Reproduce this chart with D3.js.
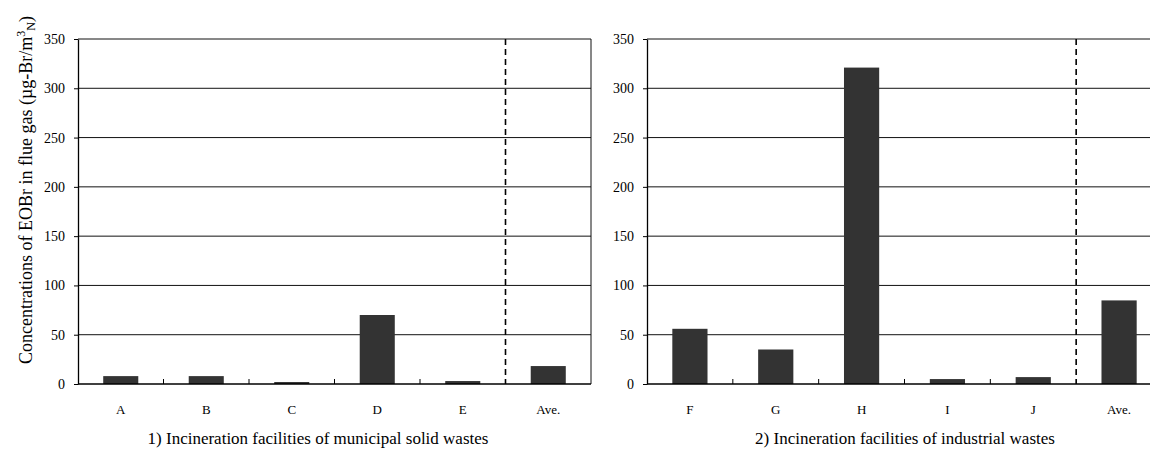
<!DOCTYPE html>
<html>
<head>
<meta charset="utf-8">
<script src="https://cdn.jsdelivr.net/npm/d3@7"></script>
<style>
  body { margin: 0; background: #fff; }
  svg text { font-family: "Liberation Serif", "DejaVu Serif", serif !important; fill: #000; }
</style>
</head>
<body>
<svg id="drawing_region"></svg>
<script>
// municipal solid waste facilities
const leftCats = ['A', 'B', 'C', 'D', 'E', 'Ave.'];
const leftVals = [8, 8, 2, 70, 3, 18.2];
// industrial waste facilities
const rightCats = ['F', 'G', 'H', 'I', 'J', 'Ave.'];
const rightVals = [56, 35, 321, 5, 7, 84.8];
const yTicks = [0, 50, 100, 150, 200, 250, 300, 350];
const titles = ['1) Incineration facilities of municipal solid wastes',
                '2) Incineration facilities of industrial wastes'];

const svg = d3.select('#drawing_region')
    .attr('width', 1150)
    .attr('height', 451);

const plotTop = 39, plotBottom = 384;

const yscale = d3.scaleLinear()
    .domain([0, 350])
    .range([plotBottom, plotTop]);

function drawPanel(cats, vals, x0, x1, title, titleX) {
    let g = svg.append('g');

    let xscale = d3.scaleBand()
        .domain(cats)
        .range([x0, x1])
        .padding(0);

    // horizontal grid lines
    g.selectAll('.grid')
        .data(yTicks.slice(1))
        .join('line')
        .attr('x1', x0).attr('x2', x1)
        .attr('y1', d => yscale(d)).attr('y2', d => yscale(d))
        .attr('stroke', '#111')
        .attr('stroke-width', 1);

    // right border
    g.append('line')
        .attr('x1', x1).attr('x2', x1)
        .attr('y1', plotTop).attr('y2', plotBottom)
        .attr('stroke', '#111');

    // bars
    let bw = xscale.bandwidth() * 0.41;
    g.selectAll('.bar')
        .data(vals)
        .join('rect')
        .attr('x', (d, i) => xscale(cats[i]) + (xscale.bandwidth() - bw) / 2)
        .attr('y', d => yscale(d))
        .attr('width', bw)
        .attr('height', d => yscale(0) - yscale(d))
        .attr('fill', '#333');

    // dashed separator before the average
    let xs = xscale(cats[cats.length - 1]);
    g.append('line')
        .attr('x1', xs).attr('x2', xs)
        .attr('y1', plotTop).attr('y2', plotBottom)
        .attr('stroke', '#000')
        .attr('stroke-width', 1.6)
        .attr('stroke-dasharray', '6,4');

    // y axis
    let yaxis = d3.axisLeft(yscale)
        .tickValues(yTicks)
        .tickSize(4)
        .tickPadding(9)
        .tickSizeOuter(0);
    let ya = g.append('g')
        .attr('transform', `translate(${x0}, 0)`)
        .call(yaxis);
    ya.select('.domain').attr('stroke', '#000').attr('stroke-width', 1.3);
    ya.selectAll('.tick line').attr('stroke', '#000');
    ya.selectAll('.tick text')
        .attr('font-size', 14);

    // category boundary ticks pointing up
    g.selectAll('.ctick')
        .data(cats.slice(1, -1))
        .join('line')
        .attr('x1', d => xscale(d)).attr('x2', d => xscale(d))
        .attr('y1', plotBottom).attr('y2', plotBottom - 5)
        .attr('stroke', '#000');

    // x axis line
    g.append('line')
        .attr('x1', x0).attr('x2', x1)
        .attr('y1', plotBottom).attr('y2', plotBottom)
        .attr('stroke', '#000')
        .attr('stroke-width', 1.6);

    // category labels
    g.selectAll('.clabel')
        .data(cats)
        .join('text')
        .attr('x', d => xscale(d) + xscale.bandwidth() / 2)
        .attr('y', 414)
        .attr('text-anchor', 'middle')
        .attr('font-size', 13)
        .text(d => d);

    // panel title
    g.append('text')
        .attr('x', titleX)
        .attr('y', 444)
        .attr('text-anchor', 'middle')
        .attr('font-size', 17)
        .text(title);
}

drawPanel(leftCats, leftVals, 78, 591, titles[0], 318);
drawPanel(rightCats, rightVals, 647, 1162, titles[1], 905);

// y axis title
let yt = svg.append('text')
    .attr('transform', 'translate(32, 190) rotate(-90)')
    .attr('text-anchor', 'middle')
    .attr('font-size', 18);
yt.append('tspan').text('Concentrations of EOBr in flue gas (µg-Br/m');
yt.append('tspan').attr('font-size', 12).attr('dy', -7).text('3');
yt.append('tspan').attr('font-size', 12).attr('dy', 10).text('N');
yt.append('tspan').attr('dy', -3).text(')');
</script>
</body>
</html>
